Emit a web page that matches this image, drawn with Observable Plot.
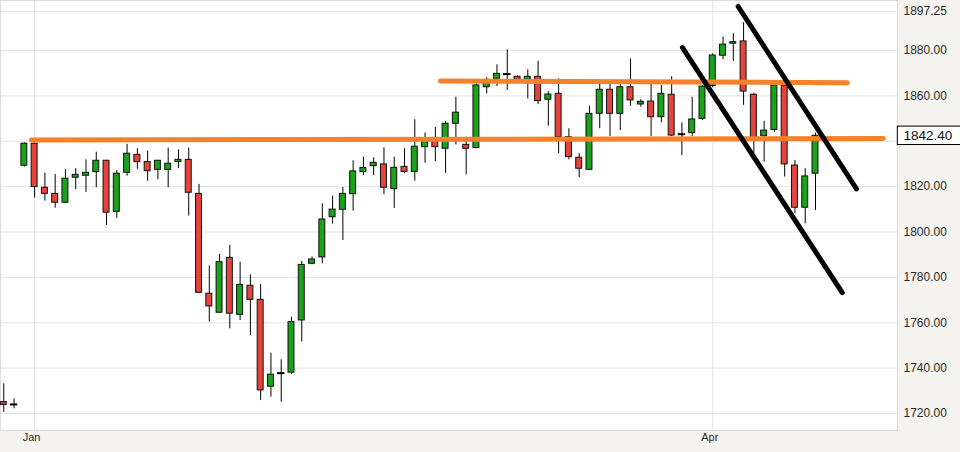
<!DOCTYPE html>
<html><head><meta charset="utf-8">
<script src="https://cdn.jsdelivr.net/npm/d3@7"></script>
<script src="https://cdn.jsdelivr.net/npm/@observablehq/plot@0.6"></script>
<style>
html,body{margin:0;padding:0;background:#f5f3ef;}
#chart{width:960px;height:452px;overflow:hidden;}
</style></head><body><div id="chart"></div>
<script>
// Daily OHLC candles (index = trading session)
const opens  = [1725.0,1724.0,1829.2,1838.9,1819.5,1816.8,1812.9,1823.9,1824.8,1826.4,
                1831.4,1808.9,1826.1,1834.0,1830.8,1827.4,1827.4,1830.9,1831.8,1816.8,
                1772.8,1764.4,1788.6,1763.5,1776.3,1770.1,1731.8,1737.8,1738.0,1761.0,
                1786.0,1788.8,1806.5,1809.8,1816.7,1826.4,1829.0,1829.8,1818.9,1828.7,
                1826.5,1837.4,1840.3,1836.7,1847.7,1838.4,1837.0,1863.8,1867.5,1869.6,
                1868.4,1867.1,1868.4,1858.3,1860.9,1841.8,1832.7,1827.4,1852.1,1862.7,
                1852.1,1863.8,1856.2,1857.5,1850.6,1860.5,1843.1,1843.6,1849.9,1864.4,
                1877.7,1883.0,1884.0,1860.5,1842.2,1845.0,1864.6,1829.3,1810.7,1825.7];
const highs  = [1733.1,1726.5,1839.3,1839.3,1826.0,1825.4,1827.6,1827.9,1831.8,1835.2,
                1831.6,1827.1,1838.6,1836.7,1835.6,1831.6,1837.0,1836.2,1837.0,1821.0,
                1785.0,1790.1,1794.1,1786.7,1781.1,1776.9,1746.6,1743.7,1762.5,1787.0,
                1789.0,1812.4,1815.8,1819.6,1831.4,1833.0,1832.7,1837.1,1833.0,1836.7,
                1849.5,1843.7,1846.1,1848.7,1859.4,1841.8,1865.3,1868.0,1873.7,1880.3,
                1868.8,1871.5,1875.2,1861.9,1867.5,1845.5,1834.5,1855.5,1865.3,1865.3,
                1865.3,1876.3,1858.3,1865.0,1864.6,1868.5,1848.1,1859.4,1864.6,1878.5,
                1885.9,1887.4,1892.3,1861.2,1848.8,1865.0,1865.0,1831.5,1827.9,1843.6];
const lows   = [1720.5,1722.1,1828.6,1814.9,1813.6,1810.5,1812.6,1818.7,1817.4,1819.5,
                1802.9,1806.0,1824.6,1827.6,1822.4,1823.1,1819.5,1827.9,1807.0,1773.0,
                1760.3,1764.2,1757.3,1761.0,1754.4,1725.8,1727.2,1725.0,1737.1,1751.5,
                1785.5,1786.0,1803.5,1796.3,1809.2,1824.8,1824.8,1816.4,1810.4,1825.7,
                1822.4,1830.3,1831.0,1825.9,1838.4,1825.2,1836.7,1860.9,1864.1,1862.4,
                1866.8,1858.7,1856.2,1846.6,1834.5,1831.8,1823.9,1827.1,1845.5,1842.1,
                1844.7,1855.3,1855.0,1842.1,1848.1,1842.1,1833.7,1842.1,1849.2,1863.6,
                1876.0,1875.2,1855.8,1834.6,1830.8,1844.0,1824.2,1808.0,1803.6,1809.5];
const closes = [1723.8,1724.0,1838.9,1819.8,1816.8,1812.9,1823.5,1825.2,1826.1,1831.4,
                1808.5,1825.7,1834.5,1830.8,1826.8,1831.4,1830.1,1831.8,1817.3,1773.2,
                1767.2,1786.7,1764.0,1776.7,1770.1,1730.2,1737.1,1737.8,1760.3,1785.5,
                1787.9,1805.5,1809.9,1816.8,1826.7,1828.2,1830.5,1819.5,1828.3,1826.5,
                1837.6,1840.3,1837.4,1847.7,1852.6,1836.7,1864.6,1865.6,1869.7,1869.6,
                1867.1,1868.4,1857.7,1860.6,1841.8,1833.0,1827.9,1852.1,1862.7,1852.1,
                1863.8,1858.0,1857.4,1850.6,1860.9,1842.5,1843.1,1849.6,1864.1,1877.8,
                1882.6,1883.7,1861.9,1841.2,1844.7,1864.6,1829.8,1810.7,1824.5,1842.4];

const xTickIndex  = [3, 69];
const xTickLabels = ["Jan", "Apr"];
const yGrid   = [1720, 1740, 1760, 1780, 1800, 1820, 1840, 1860, 1880, 1897.25];
const yLabels = [1720, 1740, 1760, 1780, 1800, 1820, 1860, 1880, 1897.25];
const lastPrice = 1842.40;

// drawn trend lines (session index, price)
const supportX1 = [2.7, 42.5];
const supportY1 = [1840.6, 1866.6];
const supportX2 = [85.6, 82.1];
const supportY2 = [1841.2, 1865.8];
const channelX1 = [66.05, 71.47];
const channelY1 = [1881.3, 1899.4];
const channelX2 = [81.6, 82.99];
const channelY2 = [1773.3, 1819.0];

const candles = opens.map((o, i) => ({i, o, h: highs[i], l: lows[i], c: closes[i]}));
const bodies = candles.filter(d => Math.abs(d.o - d.c) >= 0.3);
const dojis  = candles.filter(d => Math.abs(d.o - d.c) < 0.3);
const supports = supportX1.map((x, k) => ({x1: x, y1: supportY1[k], x2: supportX2[k], y2: supportY2[k]}));
const channels = channelX1.map((x, k) => ({x1: x, y1: channelY1[k], x2: channelX2[k], y2: channelY2[k]}));

const xDomain = [-0.32, 86.98];
const GREEN = "#1aa31a", RED = "#e5433c";

const chart = Plot.plot({
  width: 960, height: 452,
  marginLeft: 0, marginRight: 63, marginTop: 0, marginBottom: 22,
  style: {fontFamily: "'Liberation Sans', Arial, sans-serif", background: "transparent", overflow: "visible"},
  x: {type: "linear", domain: xDomain},
  y: {type: "linear", domain: [1712.51, 1902.04]},
  marks: [
    Plot.frame({fill: "white"}),
    Plot.ruleY(yGrid, {stroke: "#e3e3e3"}),
    Plot.ruleX(xTickIndex, {stroke: "#e3e3e3"}),
    Plot.frame({stroke: "#dcdcdc"}),
    Plot.ruleX(candles, {x: "i", y1: "l", y2: "h", stroke: "#000", strokeWidth: 1}),
    Plot.rect(bodies, {x1: d => d.i - 0.29, x2: d => d.i + 0.29, y1: "o", y2: "c",
      fill: d => d.c >= d.o ? GREEN : RED, stroke: "#111", strokeWidth: 1}),
    Plot.ruleY(dojis, {y: "c", x1: d => d.i - 0.36, x2: d => d.i + 0.36, stroke: "#000", strokeWidth: 2}),
    Plot.link(supports, {x1: "x1", y1: "y1", x2: "x2", y2: "y2", stroke: "#f5822a", strokeWidth: 5, strokeLinecap: "round"}),
    Plot.link(channels, {x1: "x1", y1: "y1", x2: "x2", y2: "y2", stroke: "#000", strokeWidth: 5, strokeLinecap: "round"}),
    Plot.axisY({anchor: "right", ticks: yLabels, tickSize: 0, tickPadding: 6,
      tickFormat: d => d.toFixed(2), fontSize: 12, fill: "#2a2a2a"}),
    Plot.axisX({anchor: "bottom", ticks: xTickIndex, tickSize: 0, tickPadding: 3,
      tickFormat: d => xTickLabels[xTickIndex.indexOf(d)], fontSize: 11, fill: "#2a2a2a", dx: -3}),
    Plot.rect([lastPrice], {x1: xDomain[1] + 0.03, x2: xDomain[1] + 12, y1: d => d - 4.05, y2: d => d + 4.05,
      fill: "white", stroke: "#000", strokeWidth: 1}),
    Plot.text([lastPrice], {x: xDomain[1], y: d => d, dx: 6, textAnchor: "start", fontSize: 13.5,
      fill: "#111", text: d => d.toFixed(2)})
  ]
});
document.getElementById("chart").appendChild(chart);
</script>
</body></html>
